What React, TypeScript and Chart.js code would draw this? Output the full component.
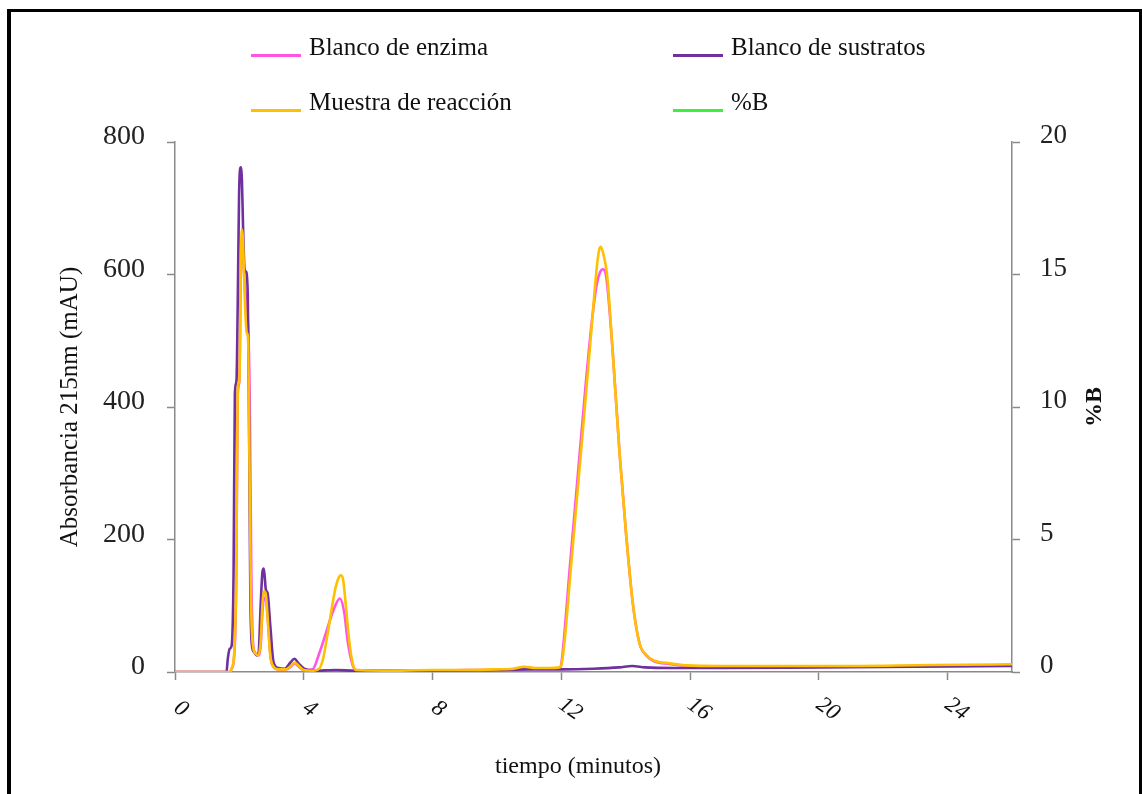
import React, { useEffect, useRef } from "react";
import { Chart, registerables } from "chart.js";

Chart.register(...registerables);

// Retention time (minutes) and absorbance at 215 nm (mAU) for each run
const timeEnzima = [0, 1.0, 1.68, 1.76, 1.84, 1.9, 1.95, 2.0, 2.04, 2.08, 2.12, 2.17, 2.23, 2.28, 2.32, 2.37, 2.43, 2.5, 2.58, 2.66, 2.72, 2.77, 2.83, 2.89, 2.97, 3.07, 3.2, 3.45, 3.6, 3.72, 3.85, 4.0, 4.27, 4.48, 4.69, 4.89, 5.12, 5.26, 5.36, 5.52, 5.62, 6.5, 8, 9, 10, 10.5, 10.85, 11.2, 11.6, 11.95, 12.0, 12.1, 12.25, 12.5, 12.75, 12.95, 13.1, 13.2, 13.29, 13.4, 13.6, 13.81, 14.02, 14.22, 14.43, 14.64, 14.85, 15.37, 15.88, 17, 20.4, 23.5, 26];
const absEnzima = [0, 0, 0, 5, 25, 130, 420, 440, 590, 655, 630, 580, 560, 510, 420, 150, 40, 28, 25, 40, 95, 112, 108, 75, 22, 7, 4, 4, 8, 13, 8, 3, 4, 28, 59, 89, 111, 89, 48, 10, 3, 2, 2, 3, 3, 4, 6, 5, 5, 6, 12, 60, 150, 290, 430, 530, 585, 603, 608, 595, 481, 330, 204, 104, 43, 25, 17, 12, 9, 8, 8, 9, 10];

const timeSustratos = [0, 1.0, 1.6, 1.64, 1.7, 1.76, 1.82, 1.86, 1.91, 1.95, 1.99, 2.04, 2.08, 2.12, 2.16, 2.21, 2.26, 2.3, 2.34, 2.39, 2.46, 2.54, 2.6, 2.66, 2.72, 2.76, 2.82, 2.88, 2.96, 3.06, 3.21, 3.41, 3.58, 3.71, 3.84, 4.01, 4.3, 5.0, 5.6, 6.5, 8, 10, 11, 12, 13, 13.8, 14.2, 14.6, 15.5, 17, 20, 23, 26];
const absSustratos = [0, 0, 0, 20, 35, 40, 150, 420, 440, 560, 720, 762, 740, 660, 608, 604, 570, 380, 120, 40, 30, 25, 30, 100, 152, 156, 125, 118, 70, 15, 6, 5, 14, 20, 13, 5, 2, 3, 2, 2, 2, 3, 4, 4, 5, 7, 9, 7, 6, 6, 7, 8, 9];

const timeMuestra = [0, 1.0, 1.68, 1.76, 1.84, 1.9, 1.95, 2.0, 2.04, 2.08, 2.12, 2.17, 2.23, 2.27, 2.31, 2.36, 2.42, 2.5, 2.58, 2.66, 2.72, 2.76, 2.82, 2.88, 2.96, 3.06, 3.2, 3.45, 3.6, 3.72, 3.85, 4.0, 4.3, 4.48, 4.6, 4.75, 4.9, 5.0, 5.1, 5.15, 5.22, 5.31, 5.41, 5.52, 5.62, 6.5, 8, 9, 10, 10.5, 10.85, 11.2, 11.6, 11.95, 12.0, 12.1, 12.25, 12.5, 12.75, 12.95, 13.1, 13.18, 13.23, 13.3, 13.42, 13.6, 13.81, 14.02, 14.22, 14.43, 14.64, 14.85, 15.37, 15.88, 17, 20.4, 23.5, 26];
const absMuestra = [0, 0, 0, 5, 30, 140, 430, 440, 600, 668, 640, 560, 512, 505, 330, 110, 40, 28, 25, 45, 105, 122, 118, 80, 25, 8, 4, 4, 9, 14, 9, 3, 2, 5, 20, 60, 105, 130, 144, 146, 140, 99, 48, 13, 3, 2, 3, 3, 4, 5, 8, 6, 6, 7, 10, 45, 130, 270, 410, 525, 610, 638, 642, 632, 600, 481, 330, 204, 104, 43, 26, 18, 13, 10, 9, 9, 10.5, 11.6];

// Gradient (%B) on the right-hand axis: no trace recorded in this run
const timeB: number[] = [];
const pctB: number[] = [];

const xTickLabels = [0, 4, 8, 12, 16, 20, 24];
const seriesLabels = ["Blanco de enzima", "Blanco de sustratos", "Muestra de reacción", "%B"];
const seriesColors = ["#FF55E3", "#7030A0", "#FFC000", "#3CF03C"];

const FONT = '"Liberation Serif", "Times New Roman", serif';
const AXIS_GREY = "#8a8a8a";

const toPoints = (xs: number[], ys: number[]) => xs.map((x, i) => ({ x, y: ys[i] }));

const overlayPlugin = {
  id: "chromatogramOverlay",
  afterDraw(chart: any) {
    const { ctx } = chart;
    ctx.save();

    // Legend: two columns, two rows
    const colX = [240, 662];
    const rowY = [43.5, 98.5];
    seriesLabels.forEach((label, i) => {
      const x = colX[i % 2];
      const y = rowY[Math.floor(i / 2)];
      ctx.strokeStyle = seriesColors[i];
      ctx.lineWidth = 3;
      ctx.beginPath();
      ctx.moveTo(x, y);
      ctx.lineTo(x + 50, y);
      ctx.stroke();
      ctx.fillStyle = "#111";
      ctx.font = `25px ${FONT}`;
      ctx.textAlign = "left";
      ctx.textBaseline = "alphabetic";
      ctx.fillText(label, x + 58, y - 0.5);
    });

    // Axis titles
    ctx.fillStyle = "#111";
    ctx.textAlign = "center";
    ctx.textBaseline = "middle";
    ctx.font = `25px ${FONT}`;
    ctx.save();
    ctx.translate(59, 395);
    ctx.rotate(-Math.PI / 2);
    ctx.fillText("Absorbancia 215nm (mAU)", 0, 0);
    ctx.restore();

    ctx.save();
    ctx.font = `bold 24px ${FONT}`;
    ctx.translate(1084, 395);
    ctx.rotate(-Math.PI / 2);
    ctx.fillText("%B", 0, 0);
    ctx.restore();

    ctx.font = `24px ${FONT}`;
    ctx.fillText("tiempo (minutos)", 567, 755);

    // Slanted x tick labels
    const xScale = chart.scales.x;
    ctx.font = `italic 23px ${FONT}`;
    xTickLabels.forEach((v) => {
      const text = String(v);
      const px = xScale.getPixelForValue(v);
      ctx.save();
      ctx.translate(px + 3 + 3 * text.length, 697);
      ctx.rotate(0.62);
      ctx.fillText(text, 0, 0);
      ctx.restore();
    });

    ctx.restore();
  },
};

export default function App() {
  const canvasRef = useRef<HTMLCanvasElement | null>(null);

  useEffect(() => {
    if (!canvasRef.current) return;
    const lineStyle = {
      borderWidth: 2.6,
      pointRadius: 0,
      fill: false,
      cubicInterpolationMode: "monotone" as const,
      tension: 0.4,
    };
    const chart = new Chart(canvasRef.current, {
      type: "line",
      data: {
        datasets: [
          { label: seriesLabels[0], data: toPoints(timeEnzima, absEnzima), borderColor: seriesColors[0], yAxisID: "y", order: 3, ...lineStyle },
          { label: seriesLabels[1], data: toPoints(timeSustratos, absSustratos), borderColor: seriesColors[1], yAxisID: "y", order: 2, ...lineStyle },
          { label: seriesLabels[2], data: toPoints(timeMuestra, absMuestra), borderColor: seriesColors[2], yAxisID: "y", order: 1, ...lineStyle },
          { label: seriesLabels[3], data: toPoints(timeB, pctB), borderColor: seriesColors[3], yAxisID: "y2", order: 0, ...lineStyle },
        ],
      },
      options: {
        responsive: false,
        animation: false,
        devicePixelRatio: 1,
        layout: { padding: { top: 130, left: 0, right: 0, bottom: 0 } },
        plugins: { legend: { display: false }, tooltip: { enabled: false } },
        scales: {
          x: {
            type: "linear",
            min: 0,
            max: 26,
            afterBuildTicks: (scale: any) => {
              scale.ticks = xTickLabels.map((v) => ({ value: v }));
            },
            afterFit: (scale: any) => {
              scale.height = 122;
            },
            ticks: { color: "rgba(0,0,0,0)", font: { size: 22, family: FONT }, maxRotation: 0 },
            grid: { drawOnChartArea: false, drawTicks: true, tickLength: 8, color: AXIS_GREY, tickColor: AXIS_GREY, tickWidth: 1.5 },
            border: { display: true, color: AXIS_GREY, width: 1.5 },
          },
          y: {
            type: "linear",
            position: "left",
            min: 0,
            max: 800,
            afterFit: (scale: any) => {
              scale.width = 164;
            },
            ticks: { stepSize: 200, padding: 22, labelOffset: -5, color: "#222", font: { size: 28, family: FONT } },
            grid: { drawOnChartArea: false, drawTicks: true, tickLength: 8, color: AXIS_GREY, tickColor: AXIS_GREY, tickWidth: 1.5 },
            border: { display: true, color: AXIS_GREY, width: 1.5 },
          },
          y2: {
            type: "linear",
            position: "right",
            min: 0,
            max: 20,
            afterFit: (scale: any) => {
              scale.width = 127;
            },
            ticks: { stepSize: 5, padding: 20, labelOffset: -6, color: "#222", font: { size: 27, family: FONT } },
            grid: { drawOnChartArea: false, drawTicks: true, tickLength: 8, color: AXIS_GREY, tickColor: AXIS_GREY, tickWidth: 1.5 },
            border: { display: true, color: AXIS_GREY, width: 1.5 },
          },
        },
      },
      plugins: [overlayPlugin],
    });
    return () => chart.destroy();
  }, []);

  return (
    <div
      style={{
        position: "absolute",
        left: 7,
        top: 9,
        width: 1128,
        height: 782,
        borderTop: "3px solid #000",
        borderLeft: "4px solid #000",
        borderRight: "3px solid #000",
        background: "#fff",
      }}
    >
      <canvas ref={canvasRef} width={1128} height={782} style={{ display: "block" }} />
    </div>
  );
}
